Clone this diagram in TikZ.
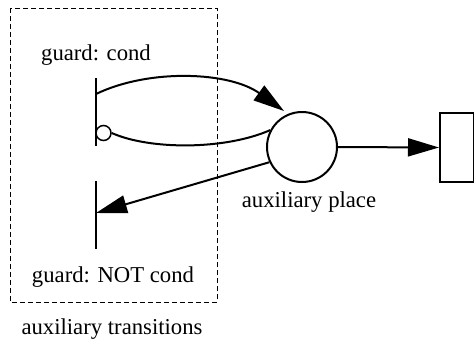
\documentclass[tikz,border=0pt]{standalone}
\usepackage{fontspec}
\setmainfont{Liberation Serif}
\usetikzlibrary{arrows.meta}
\begin{document}
\begin{tikzpicture}[x=1pt,y=-1pt,
  lbl/.style={inner sep=0pt,font=\fontsize{22.7}{26}\selectfont},
  arc/.style={line width=2pt,-{Triangle[length=31pt,width=18pt]}},
  bar/.style={line width=2pt},
  place/.style={circle,draw,line width=2pt,minimum size=70pt,inner sep=0pt},
  trans/.style={draw,line width=2pt,minimum width=34pt,minimum height=69pt,inner sep=0pt}]
\useasboundingbox (0,0) rectangle (474,341);
\draw[dashed,dash pattern=on 5pt off 3pt,line width=0.8pt] (10,8) rectangle (217,302);
\coordinate (t1a) at (96,78);
\coordinate (t1b) at (96,146);
\coordinate (t2a) at (96,181);
\coordinate (t2b) at (96,249);
\draw[bar] (t1a) -- (t1b);
\draw[bar] (t2a) -- (t2b);
\node[place] (p) at (302,147) {};
\node[trans,anchor=north west] (r) at (439,112) {};
\node[circle,draw,fill=white,line width=1.5pt,minimum size=15pt,inner sep=0pt] (inh) at (103.5,133) {};
\coordinate (s1) at (96,94);
\coordinate (e1) at (284,111);
\coordinate (e2) at (96,213);
\draw[arc] (s1) .. controls (150,68) and (230,72) .. (e1);
\draw[line width=2pt] (inh.east) .. controls (150,150) and (225,150) .. (p.152);
\draw[arc] (p.205) -- (e2);
\draw[arc] (p.east) -- (r.west);
\node[lbl] (g1) at (96,55) {guard: cond};
\node[lbl] (g2) at (113,277) {guard: NOT cond};
\node[lbl] (at) at (112,329) {auxiliary transitions};
\node[lbl] (ap) at (309,202) {auxiliary place};
\end{tikzpicture}
\end{document}
